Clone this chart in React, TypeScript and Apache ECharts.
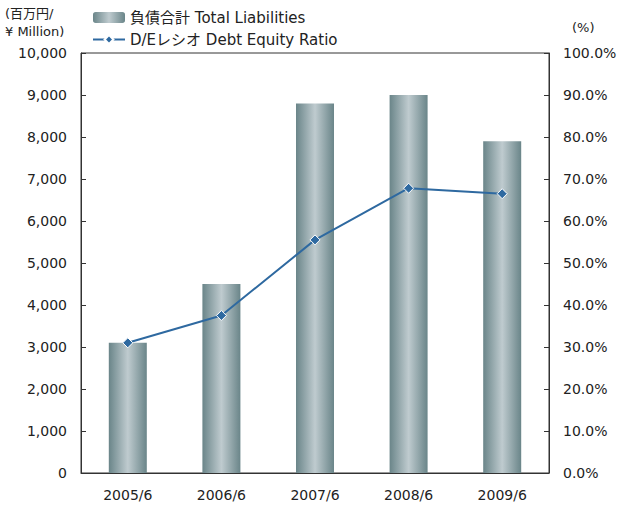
import React, { useEffect, useRef } from "react";
import * as echarts from "echarts";

const categories = ["2005/6", "2006/6", "2007/6", "2008/6", "2009/6"];
const totalLiabilities = [3100, 4500, 8800, 9000, 7900];
const deRatio = [31.0, 37.5, 55.5, 67.8, 66.5];
const leftTicks = { min: 0, max: 10000, interval: 1000 };
const rightTicks = { min: 0, max: 100, interval: 10 };

const FONT = "'DejaVu Sans', 'Noto Sans CJK JP', sans-serif";

export default function App() {
  const ref = useRef<HTMLDivElement>(null);
  useEffect(() => {
    if (!ref.current) return;
    const chart = echarts.init(ref.current, undefined, { renderer: "svg" });
    const barGrad = new echarts.graphic.LinearGradient(0, 0, 1, 0, [
      { offset: 0, color: "#6a8589" },
      { offset: 0.5, color: "#bfcbcf" },
      { offset: 1, color: "#6a8589" },
    ]);
    chart.setOption({
      animation: false,
      textStyle: { fontFamily: FONT, color: "#222" },
      grid: {
        left: 81,
        right: 75,
        top: 53,
        bottom: 32,
        show: true,
        borderColor: "#333",
        borderWidth: 1,
      },
      legend: {
        orient: "vertical",
        left: 87,
        top: 5,
        itemWidth: 32,
        itemHeight: 11,
        itemGap: 7,
        textStyle: { fontFamily: FONT, fontSize: 15, color: "#222" },
        data: [
          { name: "負債合計 Total Liabilities" },
          { name: "D/Eレシオ Debt Equity Ratio" },
        ],
      },
      graphic: [
        {
          type: "text",
          left: 5,
          top: 7,
          style: { text: "(百万円/", font: `13px ${FONT}`, fill: "#222" },
        },
        {
          type: "text",
          left: 5,
          top: 25,
          style: { text: "¥ Million)", font: `13px ${FONT}`, fill: "#222" },
        },
        {
          type: "text",
          left: 572,
          top: 21,
          style: { text: "(%)", font: `13px ${FONT}`, fill: "#222" },
        },
      ],
      xAxis: {
        type: "category",
        data: categories,
        axisLine: { lineStyle: { color: "#333" } },
        axisTick: { inside: true, length: 5, lineStyle: { color: "#333" } },
        axisLabel: { fontSize: 14, color: "#222", margin: 15, fontFamily: FONT },
      },
      yAxis: [
        {
          type: "value",
          ...leftTicks,
          splitLine: { show: false },
          axisLine: { show: true, lineStyle: { color: "#333" } },
          axisTick: { show: true, inside: true, length: 5, lineStyle: { color: "#333" } },
          axisLabel: {
            fontSize: 14,
            color: "#222",
            margin: 14,
            fontFamily: FONT,
            formatter: (v: number) => v.toLocaleString("en-US"),
          },
        },
        {
          type: "value",
          ...rightTicks,
          splitLine: { show: false },
          axisLine: { show: true, lineStyle: { color: "#333" } },
          axisTick: { show: true, inside: true, length: 5, lineStyle: { color: "#333" } },
          axisLabel: {
            fontSize: 14,
            color: "#222",
            margin: 14,
            fontFamily: FONT,
            formatter: (v: number) => v.toFixed(1) + "%",
          },
        },
      ],
      series: [
        {
          name: "負債合計 Total Liabilities",
          type: "bar",
          data: totalLiabilities,
          barWidth: 38,
          itemStyle: { color: barGrad },
        },
        {
          name: "D/Eレシオ Debt Equity Ratio",
          type: "line",
          yAxisIndex: 1,
          data: deRatio,
          symbol: "diamond",
          symbolSize: 10,
          lineStyle: { color: "#2e69a0", width: 2 },
          itemStyle: { color: "#2e69a0", borderColor: "#fff", borderWidth: 1 },
        },
      ],
    });
    return () => chart.dispose();
  }, []);
  return (
    <div
      ref={ref}
      style={{ position: "absolute", left: 0, top: 0, width: 624, height: 505 }}
    />
  );
}
